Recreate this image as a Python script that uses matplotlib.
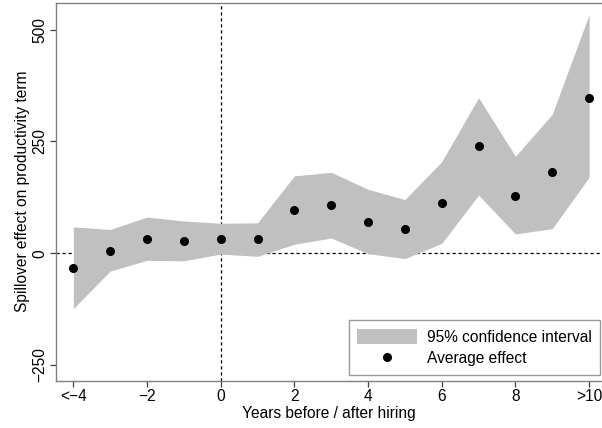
import numpy as np
import matplotlib.pyplot as plt

plt.rcParams['font.family'] = ['Liberation Sans', 'DejaVu Sans']

# event time (years before / after hiring)
years = [-4, -3, -2, -1, 0, 1, 2, 3, 4, 5, 6, 7, 8, 9, 10]
effect = [-33, 6, 32, 28, 31, 31, 96, 108, 70, 54, 113, 239, 128, 182, 348]
ci_hi = [59, 53, 81, 72, 67, 68, 173, 181, 143, 120, 205, 348, 217, 311, 534]
ci_lo = [-124, -40, -16, -17, -2, -7, 20, 34, -1, -12, 22, 130, 43, 55, 170]

xticks = [-4, -2, 0, 2, 4, 6, 8, 10]
xticklabels = ['<\u22124', '\u22122', '0', '2', '4', '6', '8', '>10']
yticks = [-250, 0, 250, 500]
yticklabels = ['\u2212250', '0', '250', '500']

fs = 11.2

fig = plt.figure(figsize=(6.02, 4.28), dpi=100)
ax = fig.add_axes([56/602, 1 - 381/428, 1 - 56/602, (381 - 2.5)/428])

# reference lines sit behind the CI band
ax.axhline(0, color='black', lw=0.9, ls=(0, (2.6, 2.2)), zorder=0.5)
ax.axvline(0, color='black', lw=0.9, ls=(0, (2.6, 2.2)), zorder=0.5)
ax.fill_between(years, ci_lo, ci_hi, color='#c0c0c0', lw=0, label='95% confidence interval', zorder=1)
ax.plot(years, effect, 'o', color='black', markersize=5.5, label='Average effect', zorder=3)

ax.set_xlim(-4.47, 10.35)
ax.set_ylim(-286, 561)
ax.set_xticks(xticks)
ax.set_xticklabels(xticklabels)
ax.set_yticks(yticks)
ax.set_yticklabels(yticklabels, rotation=90, va='center')

for s in ['left', 'bottom', 'top']:
    ax.spines[s].set_color('#808080')
    ax.spines[s].set_linewidth(1.0)
ax.spines['right'].set_visible(False)
ax.tick_params(direction='out', length=4, width=0.9, color='#404040', labelsize=fs, pad=2)

ax.set_xlabel('Years before / after hiring', fontsize=fs, labelpad=1)
ax.set_ylabel('Spillover effect on productivity term', fontsize=fs, labelpad=2)

leg = ax.legend(loc='lower right', fontsize=fs, frameon=True, fancybox=False, edgecolor='#808080',
                handlelength=3.85, handleheight=1.15, handletextpad=0.6,
                borderpad=0.55, labelspacing=0.38, borderaxespad=0)
leg.get_frame().set_linewidth(1.0)
# place legend box in figure coords
leg.set_bbox_to_anchor((600/602, 1 - 375/428), transform=fig.transFigure)

fig.savefig('out.png', dpi=100)
